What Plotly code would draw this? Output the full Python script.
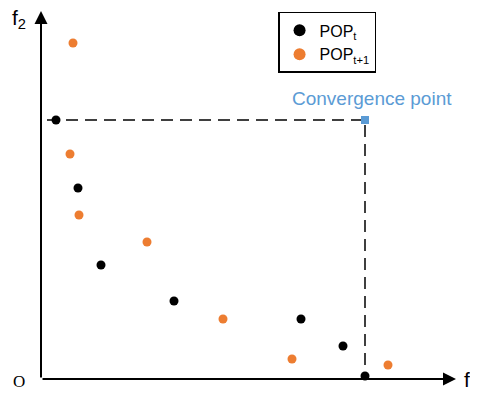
import plotly.graph_objects as go

# data (f1, f2)
pop_t_f1 = [15, 37, 60, 133, 260, 302, 324]
pop_t_f2 = [259, 191, 114, 78, 60, 33, 3]
pop_t1_f1 = [32, 29, 38, 106, 182, 251, 347]
pop_t1_f2 = [336, 225, 164, 137, 60, 20, 14]
conv_f1 = [324]
conv_f2 = [259]

BLUE = "#5b9bd5"
ORANGE = "#ed7d31"

fig = go.Figure()
fig.add_trace(go.Scatter(x=pop_t_f1, y=pop_t_f2, mode="markers", name="POP<sub>t</sub>",
                         marker=dict(color="black", size=9)))
fig.add_trace(go.Scatter(x=pop_t1_f1, y=pop_t1_f2, mode="markers", name="POP<sub>t+1</sub>",
                         marker=dict(color=ORANGE, size=9)))

# dashed guide lines
fig.add_trace(go.Scatter(x=[6, conv_f1[0], conv_f1[0]], y=[conv_f2[0], conv_f2[0], 3], mode="lines",
                         line=dict(color="black", width=1.5, dash="12px,7px"), showlegend=False, hoverinfo="skip"))
fig.add_trace(go.Scatter(x=conv_f1, y=conv_f2, mode="markers", showlegend=False,
                         marker=dict(color=BLUE, size=8, symbol="square")))

# axes with arrows
fig.add_annotation(x=0, y=368, ax=0, ay=0, xref="x", yref="y", axref="x", ayref="y",
                   showarrow=True, arrowhead=2, arrowsize=1.3, arrowwidth=2, arrowcolor="black", text="")
fig.add_annotation(x=415, y=0, ax=0, ay=0, xref="x", yref="y", axref="x", ayref="y",
                   showarrow=True, arrowhead=2, arrowsize=1.3, arrowwidth=2, arrowcolor="black", text="")

fig.add_annotation(x=-22, y=360, text="f<sub>2</sub>", showarrow=False, font=dict(size=21, color="black", family="Arial"))
fig.add_annotation(x=-22, y=-2, text="O", showarrow=False, font=dict(size=17, color="black", family="Liberation Serif"))
fig.add_annotation(x=421, y=-2, text="f<sub>1</sub>", showarrow=False, xanchor="left", font=dict(size=21, color="black", family="Arial"))
fig.add_annotation(x=331, y=281, text="Convergence point", showarrow=False, font=dict(size=19, color=BLUE, family="Arial"))

# page is offset by the body margin (8px), compensate in the ranges
fig.update_xaxes(range=[-33, 445], visible=False)
fig.update_yaxes(range=[-23, 371], visible=False)
fig.update_layout(
    width=478, height=394, margin=dict(l=0, r=0, t=0, b=0),
    plot_bgcolor="white", paper_bgcolor="white",
    font=dict(family="Arial", size=15, color="black"),
    legend=dict(x=0.565, y=0.99, xanchor="left", yanchor="top", bordercolor="black", borderwidth=1.5,
                bgcolor="white", itemsizing="constant", tracegroupgap=0, font=dict(size=16)),
)
fig.write_html("out.html")
